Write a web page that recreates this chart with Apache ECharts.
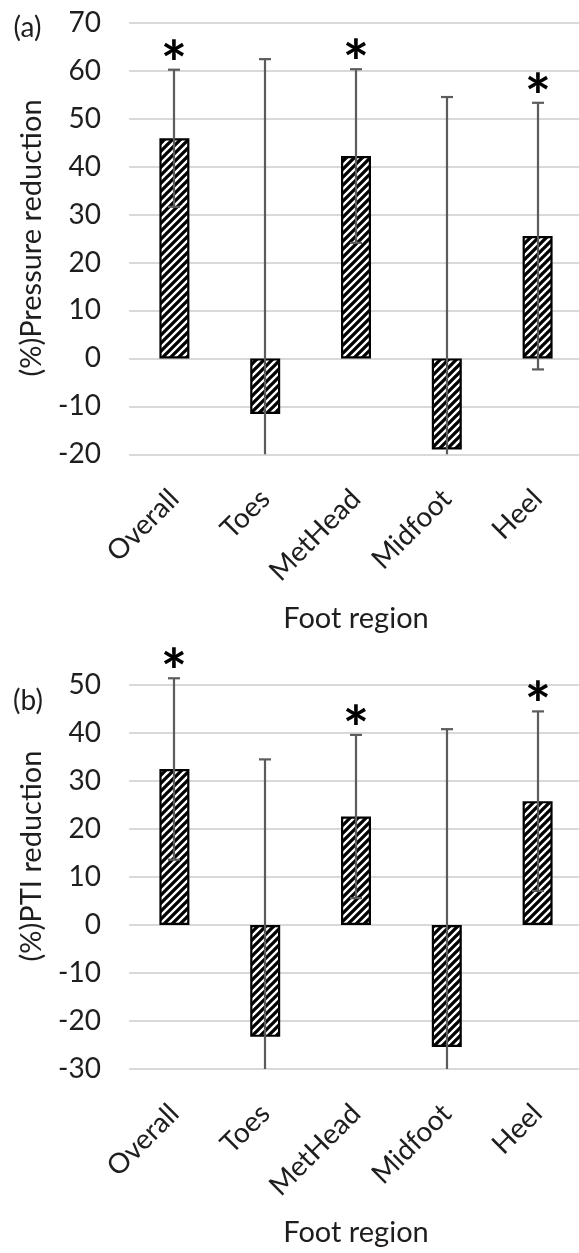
<!DOCTYPE html>
<html>
<head>
<meta charset="utf-8">
<script src="https://cdn.jsdelivr.net/npm/echarts@6/dist/echarts.min.js"></script>
<style>
html,body{margin:0;padding:0;background:#fff;}
#chart{width:579px;height:1253px;}
</style>
</head>
<body>
<div id="chart"></div>
<script>
// ---- data ----
const categories = ['Overall', 'Toes', 'MetHead', 'Midfoot', 'Heel'];
const pressureMean = [45.9, -11.6, 42.2, -19.0, 25.5];
const pressureSD   = [14.3, 74.0, 18.1, 73.5, 27.8];
const pressureSig  = [1, 0, 1, 0, 1];
const ptiMean = [32.5, -23.3, 22.6, -25.4, 25.8];
const ptiSD   = [18.9, 57.8, 17.0, 66.2, 18.7];
const ptiSig  = [1, 0, 1, 0, 1];
const pressureAxis = [-20, 70, 10]; // min, max, interval
const ptiAxis = [-30, 50, 10];
const panelLabels = ['(a)', '(b)'];
const yNames = ['(%)Pressure reduction', '(%)PTI reduction'];
const xName = 'Foot region';

// ---- hatch pattern ----
function makeHatch() {
  const c = document.createElement('canvas');
  c.width = 8; c.height = 8;
  const g = c.getContext('2d');
  g.fillStyle = '#fff'; g.fillRect(0, 0, 8, 8);
  g.strokeStyle = '#000'; g.lineWidth = 3.3;
  g.beginPath();
  g.moveTo(-2, 10); g.lineTo(10, -2);
  g.moveTo(-6, 6); g.lineTo(6, -6);
  g.moveTo(2, 14); g.lineTo(14, 2);
  g.stroke();
  return c;
}
const hatch = makeHatch();

const FONT = 'Lato';
const TXT = '#1e1e1e';
const ERR = '#5c5c5c';
const GRIDC = '#d9d9d9';

function errRender(params, api) {
  const x = api.value(0), m = api.value(1), sd = api.value(2), sig = api.value(3);
  const cs = params.coordSys;
  const top = api.coord([x, m + sd]);
  const bot = api.coord([x, m - sd]);
  let yt = top[1], yb = bot[1];
  let capB = true;
  if (yb > cs.y + cs.height) { yb = cs.y + cs.height; capB = false; }
  const cx = Math.round(top[0]);
  const hw = 6;
  const ls = { stroke: ERR, lineWidth: 2.2 };
  const children = [
    { type: 'line', shape: { x1: cx, y1: yt, x2: cx, y2: yb }, style: ls },
    { type: 'line', shape: { x1: cx - hw, y1: yt, x2: cx + hw, y2: yt }, style: ls }
  ];
  if (capB) children.push({ type: 'line', shape: { x1: cx - hw, y1: yb, x2: cx + hw, y2: yb }, style: ls });
  if (sig) {
    children.push({
      type: 'text',
      style: { text: '*', x: cx, y: yt - 4, fill: '#000', fontSize: 62, fontFamily: FONT, fontWeight: 'bold', align: 'center', verticalAlign: 'middle' }
    });
  }
  return { type: 'group', children: children };
}

function errData(mean, sd, sig) {
  return mean.map((v, i) => [i, v, sd[i], sig[i]]);
}

const gridDefs = [
  { left: 129, top: 22.7, width: 454, height: 431.6 },
  { left: 129, top: 685, width: 454, height: 384 }
];

const axes = [pressureAxis, ptiAxis];
const means = [pressureMean, ptiMean];
const sds = [pressureSD, ptiSD];
const sigs = [pressureSig, ptiSig];

const option = {
  animation: false,
  backgroundColor: '#fff',
  grid: gridDefs.map(g => Object.assign({ containLabel: false, outerBoundsMode: 'none' }, g)),
  xAxis: gridDefs.map((g, k) => ({
    type: 'category', gridIndex: k, data: categories,
    axisLine: { show: false }, axisTick: { show: false },
    axisLabel: { interval: 0, rotate: 45, margin: 40, fontSize: 28, fontFamily: FONT, color: TXT }
  })),
  yAxis: gridDefs.map((g, k) => ({
    type: 'value', gridIndex: k, min: axes[k][0], max: axes[k][1], interval: axes[k][2],
    axisLine: { show: false }, axisTick: { show: false },
    axisLabel: { margin: 28, fontSize: 28, fontFamily: FONT, color: TXT },
    splitLine: { show: true, lineStyle: { color: GRIDC, width: 2 } }
  })),
  series: [],
  graphic: []
};

for (let k = 0; k < 2; k++) {
  option.series.push({
    type: 'bar', xAxisIndex: k, yAxisIndex: k, data: means[k], barWidth: 30,
    itemStyle: { color: { image: hatch, repeat: 'repeat' }, borderColor: '#000', borderWidth: 2.2 },
    z: 2
  });
  option.series.push({
    type: 'custom', xAxisIndex: k, yAxisIndex: k, data: errData(means[k], sds[k], sigs[k]),
    encode: { x: 0, y: 1 }, renderItem: errRender, clip: false, z: 5
  });
}

const labelPos = [[27.5, 28], [28, 701]];
const yNamePos = [[32, 238], [32, 856]];
const xNamePos = [[356, 619], [356, 1233]];
for (let k = 0; k < 2; k++) {
  option.graphic.push({
    type: 'text', x: labelPos[k][0], y: labelPos[k][1],
    style: { text: panelLabels[k], fontSize: 28, fontFamily: FONT, fill: TXT, align: 'center', verticalAlign: 'middle' }
  });
  option.graphic.push({
    type: 'text', x: yNamePos[k][0], y: yNamePos[k][1], rotation: Math.PI / 2,
    style: { text: yNames[k], fontSize: 29, fontFamily: FONT, fill: TXT, align: 'center', verticalAlign: 'middle' }
  });
  option.graphic.push({
    type: 'text', x: xNamePos[k][0], y: xNamePos[k][1],
    style: { text: xName, fontSize: 29, fontFamily: FONT, fill: TXT, align: 'center', verticalAlign: 'middle' }
  });
}

const chart = echarts.init(document.getElementById('chart'), null, { renderer: 'canvas' });
chart.setOption(option);
</script>
</body>
</html>
